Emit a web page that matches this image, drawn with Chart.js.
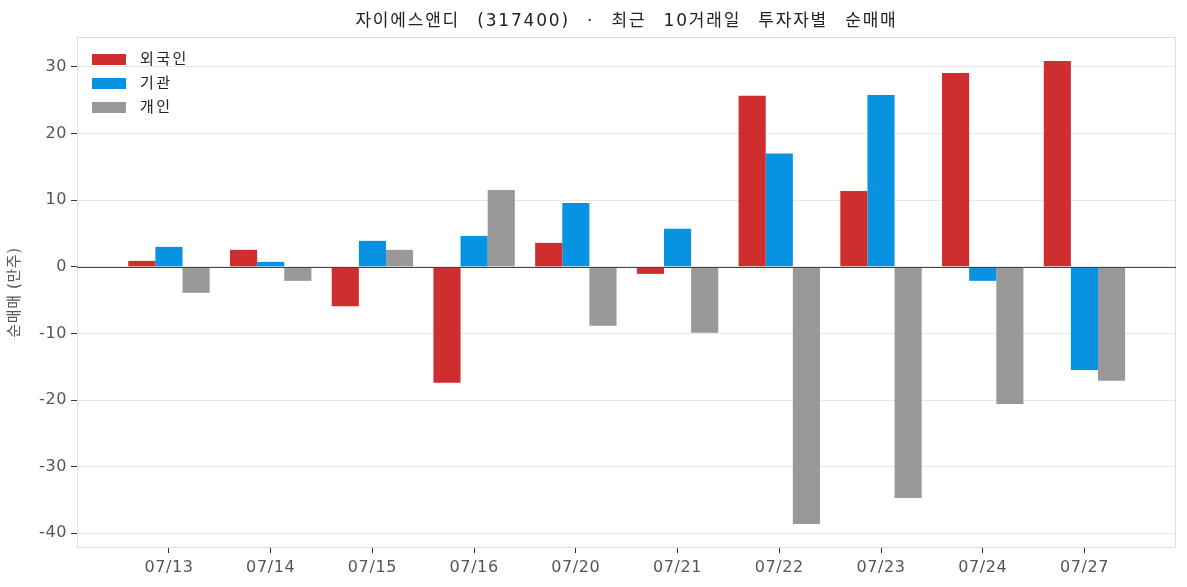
<!DOCTYPE html>
<html>
<head>
<meta charset="utf-8">
<script src="https://cdn.jsdelivr.net/npm/chart.js@4.4.0/dist/chart.umd.min.js"></script>
<style>
  html, body { margin: 0; padding: 0; background: #fff; }
  #wrap { width: 1187px; height: 587px; position: relative; }
  #title {
    position: absolute; left: 77px; width: 1099px; top: 8px;
    text-align: center; color: #222;
    font: 17px 'DejaVu Sans', 'Noto Sans CJK KR', sans-serif;
    letter-spacing: 1.8px; word-spacing: 10px; line-height: 24px;
    white-space: nowrap;
  }
</style>
</head>
<body>
<div id="wrap">
  <div id="title">자이에스앤디 (317400) · 최근 10거래일 투자자별 순매매</div>
  <canvas id="chart"></canvas>
</div>
<script>
// ── Data ───────────────────────────────────────────────────
const dates    = ['07/13', '07/14', '07/15', '07/16', '07/20', '07/21', '07/22', '07/23', '07/24', '07/27'];
const foreign  = [0.9, 2.55, -5.9, -17.4, 3.6, -1.05, 25.7, 11.4, 29.1, 30.9];
const inst     = [3.0, 0.75, 3.9, 4.65, 9.6, 5.7, 17.0, 25.8, -2.1, -15.5];
const retail   = [-3.9, -2.1, 2.55, 11.55, -8.85, -9.9, -38.6, -34.7, -20.6, -17.1];
const seriesLabels = ['외국인', '기관', '개인'];
const yTicks   = [-40, -30, -20, -10, 0, 10, 20, 30];

const FONT = "'DejaVu Sans', 'Noto Sans CJK KR', sans-serif";
const colors = ['#cf2e2e', '#0893e2', '#999999'];

const toPoints = arr => arr.map((v, i) => ({ x: i, y: v }));

// letter spacing for the axis text
const spacingPlugin = {
  id: 'spacing',
  beforeDraw(chart) { chart.ctx.letterSpacing = '0.6px'; },
};

// frame + zero line + in-plot legend
const framePlugin = {
  id: 'frame',
  afterDatasetsDraw(chart) {
    const { ctx, chartArea: a, scales } = chart;
    ctx.save();
    ctx.strokeStyle = '#dddddd';
    ctx.lineWidth = 1;
    ctx.strokeRect(a.left + 0.5, a.top + 0.5, a.right - a.left - 1, a.bottom - a.top - 1);
    const y0 = Math.round(scales.y.getPixelForValue(0)) + 0.5;
    ctx.strokeStyle = '#444444';
    ctx.beginPath();
    ctx.moveTo(a.left, y0);
    ctx.lineTo(a.right, y0);
    ctx.stroke();

    ctx.font = `15px ${FONT}`;
    ctx.letterSpacing = '2.5px';
    ctx.textBaseline = 'middle';
    chart.data.datasets.forEach((ds, i) => {
      const top = a.top + 17 + i * 24;
      ctx.fillStyle = ds.backgroundColor;
      ctx.fillRect(a.left + 15, top, 34, 11);
      ctx.fillStyle = '#222';
      ctx.fillText(ds.label, a.left + 63, top + 6);
    });
    ctx.restore();
  }
};

new Chart(document.getElementById('chart'), {
  type: 'bar',
  data: {
    datasets: [foreign, inst, retail].map((d, i) => ({
      label: seriesLabels[i],
      data: toPoints(d),
      backgroundColor: colors[i],
      borderWidth: 0,
      categoryPercentage: 0.8,
      barPercentage: 1.0,
    })),
  },
  options: {
    responsive: true,
    maintainAspectRatio: false,
    animation: false,
    layout: { padding: { left: 0, right: 11, top: 37, bottom: 0 } },
    scales: {
      x: {
        type: 'linear',
        offset: false,
        min: -0.904,
        max: 9.9,
        afterBuildTicks: scale => { scale.ticks = dates.map((_, i) => ({ value: i })); },
        afterFit: scale => { scale.height = 39; },
        grid: { offset: false, drawOnChartArea: false, tickLength: 5, tickColor: '#333' },
        border: { display: false },
        ticks: {
          color: '#555',
          font: { family: FONT, size: 16 },
          padding: 5,
          autoSkip: false,
          maxRotation: 0,
          callback: v => dates[v],
        },
      },
      y: {
        min: -42.2,
        max: 34.5,
        afterBuildTicks: scale => { scale.ticks = yTicks.map(v => ({ value: v })); },
        afterFit: scale => { scale.width = 77; },
        grid: { color: '#e6e6e6', tickLength: 6, tickColor: '#333' },
        border: { display: false },
        ticks: {
          color: '#555',
          font: { family: FONT, size: 16 },
          padding: 4,
        },
        title: {
          display: true,
          text: '순매매 (만주)',
          color: '#555',
          font: { family: FONT, size: 15 },
          padding: { top: 6, bottom: 0 },
        },
      },
    },
    plugins: {
      legend: { display: false },
      tooltip: { enabled: false },
      title: { display: false },
    },
  },
  plugins: [spacingPlugin, framePlugin],
});
</script>
</body>
</html>
